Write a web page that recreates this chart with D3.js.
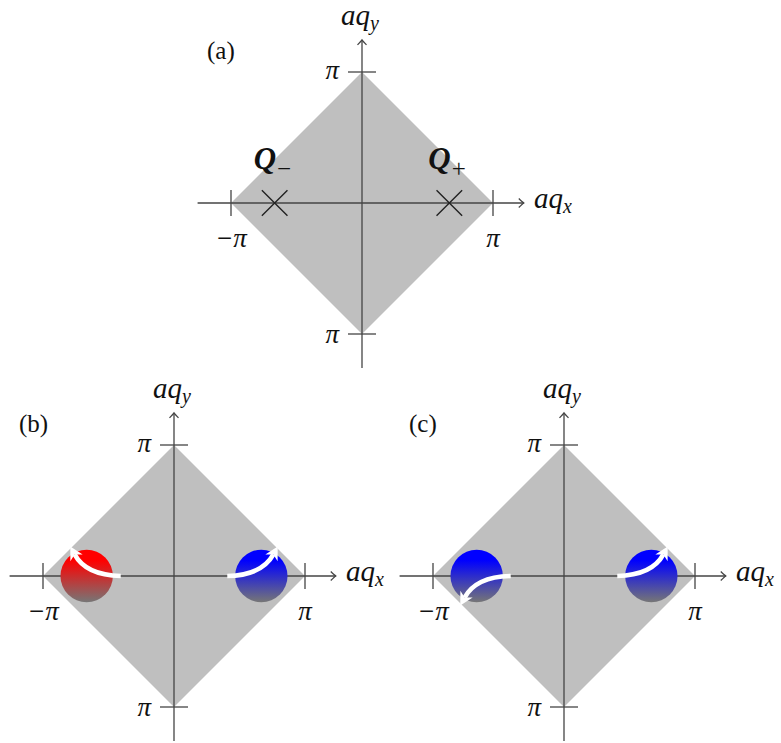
<!DOCTYPE html>
<html>
<head>
<meta charset="utf-8">
<script src="https://cdn.jsdelivr.net/npm/d3@7"></script>
<style>
  html, body { margin: 0; padding: 0; background: #fff; }
  svg { display: block; }
  text { font-family: "Liberation Serif", "Times New Roman", serif; fill: #111; }
</style>
</head>
<body>
<svg id="chart" width="781" height="743"></svg>
<script>
const PI = Math.PI;

// ---- data ----
const panelLabels = ["(a)", "(b)", "(c)"];
const bzVertices = [[PI, 0], [0, PI], [-PI, 0], [0, -PI]];   // Brillouin zone corners
const qPoints = [-2 * PI / 3, 2 * PI / 3];                     // Q_-, Q_+ on the qx axis
const qNames = ["\u2212", "+"];
const tickValues = [-PI, PI];
const xTickLabels = ["\u2212\u03c0", "\u03c0"];
const yTickLabels = ["\u03c0", "\u03c0"];
const valleyColorsB = ["red", "blue"];
const valleyColorsC = ["blue", "blue"];
const arrowSenseB = [1, 1];     // +1 : curls upward, -1 : curls downward
const arrowSenseC = [-1, 1];
const valleyRadius = 0.2 * PI;

// ---- layout ----
const svg = d3.select("#chart");
const HALF = 131;
const layout = [
  { cx: 362, cy: 203 },
  { cx: 174, cy: 576 },
  { cx: 564, cy: 576 }
];
const axisColor = "#444";
const FONT = "'Liberation Serif', 'Times New Roman', serif";

const defs = svg.append("defs");
const gradColors = { red: "#ff0000", blue: "#0000ff" };
Object.entries(gradColors).forEach(([k, c]) => {
  const g = defs.append("linearGradient").attr("id", "grad-" + k)
    .attr("x1", 0).attr("y1", 0).attr("x2", 0).attr("y2", 1);
  g.append("stop").attr("offset", "0").attr("stop-color", c);
  g.append("stop").attr("offset", "0.2").attr("stop-color", c);
  g.append("stop").attr("offset", "1").attr("stop-color", "#767676");
});

function axisArrow(g, x, y, angle) {
  g.append("path")
    .attr("d", "M-5,-4.5 Q-1.2,-0.8 0,0 Q-1.2,0.8 -5,4.5")
    .attr("transform", `translate(${x},${y}) rotate(${angle})`)
    .attr("fill", "none").attr("stroke", axisColor).attr("stroke-width", 1.3);
}

function sub(textSel, main, subTxt, subSize, dy) {
  textSel.append("tspan").text(main);
  textSel.append("tspan").attr("dy", dy).attr("font-size", subSize).text(subTxt);
}

function drawPanel(i) {
  const { cx, cy } = layout[i];
  const x = d3.scaleLinear().domain([-PI, PI]).range([cx - HALF, cx + HALF]);
  const y = d3.scaleLinear().domain([-PI, PI]).range([cy + HALF, cy - HALF]);
  const g = svg.append("g");

  // Brillouin zone
  g.append("path")
    .attr("d", d3.line().x(d => x(d[0])).y(d => y(d[1])).curve(d3.curveLinearClosed)(bzVertices))
    .attr("fill", "#bfbfbf");

  // axes
  const xa = [-1.255 * PI, 1.235 * PI];
  const ya = [-1.26 * PI, 1.245 * PI];
  g.append("line").attr("x1", x(xa[0])).attr("x2", x(xa[1])).attr("y1", y(0)).attr("y2", y(0))
    .attr("stroke", axisColor).attr("stroke-width", 1.3);
  g.append("line").attr("x1", x(0)).attr("x2", x(0)).attr("y1", y(ya[0])).attr("y2", y(ya[1]))
    .attr("stroke", axisColor).attr("stroke-width", 1.3);
  axisArrow(g, x(xa[1]), y(0), 0);
  axisArrow(g, x(0), y(ya[1]), -90);

  // ticks
  tickValues.forEach((t, k) => {
    g.append("line").attr("x1", x(t)).attr("x2", x(t)).attr("y1", y(0) - 13).attr("y2", y(0) + 13)
      .attr("stroke", axisColor).attr("stroke-width", 1.3);
    g.append("line").attr("y1", y(t)).attr("y2", y(t)).attr("x1", x(0) - 14).attr("x2", x(0) + 14)
      .attr("stroke", axisColor).attr("stroke-width", 1.3);
    g.append("text").attr("x", x(t)).attr("y", y(0) + 44).attr("text-anchor", "middle")
      .attr("font-family", FONT).attr("font-size", 27).attr("font-style", "italic").text(xTickLabels[k]);
    g.append("text").attr("x", x(0) - 23).attr("y", y(t) + (t > 0 ? 7 : 9)).attr("text-anchor", "end")
      .attr("font-family", FONT).attr("font-size", 27).attr("font-style", "italic").text(yTickLabels[k]);
  });

  // axis labels
  const lx = g.append("text").attr("x", x(0) + 172).attr("y", y(0) + 5)
    .attr("font-family", FONT).attr("font-size", 29).attr("font-style", "italic");
  sub(lx, "aq", "x", 20, 5);
  const ly = g.append("text").attr("x", x(0) - 21).attr("y", y(0) - 178)
    .attr("font-family", FONT).attr("font-size", 29).attr("font-style", "italic");
  sub(ly, "aq", "y", 20, 5);

  // panel label
  g.append("text").attr("x", x(0) - 155).attr("y", y(0) - 144)
    .attr("font-family", FONT).attr("font-size", 25).text(panelLabels[i]);

  return { g, x, y };
}

// ---- panel (a) ----
{
  const { g, x, y } = drawPanel(0);
  const s = 12.8;
  qPoints.forEach((q, k) => {
    g.append("path")
      .attr("d", `M${x(q) - s},${y(0) - s}L${x(q) + s},${y(0) + s}M${x(q) - s},${y(0) + s}L${x(q) + s},${y(0) - s}`)
      .attr("stroke", "#222").attr("stroke-width", 1.4).attr("fill", "none");
    const t = g.append("text").attr("x", x(q) - 21).attr("y", y(0) - 34)
      .attr("font-family", FONT).attr("font-size", 31).attr("font-weight", "bold").attr("font-style", "italic");
    t.append("tspan").text("Q");
    t.append("tspan").attr("dx", 1).attr("dy", 8).attr("font-size", 25).attr("font-weight", "normal")
      .attr("font-style", "normal").text(qNames[k]);
  });
}

// ---- panels (b), (c) ----
function drawValleys(i, colors, senses) {
  const { g, x, y } = drawPanel(i);
  qPoints.forEach((q, k) => {
    const rpx = x(valleyRadius) - x(0);
    g.append("circle").attr("cx", x(q)).attr("cy", y(0)).attr("r", rpx)
      .attr("fill", `url(#grad-${colors[k]})`);
    // white arrow, geometry in data units relative to the valley, mirrored for the left valley
    const mx = q < 0 ? -1 : 1;
    const sy = senses[k];
    const P0 = [x(q + mx * -0.26 * PI), y(0)];
    const C = [x(q + mx * 0.005 * PI), y(sy * 0.005 * PI)];
    const T = [x(q + mx * 0.125 * PI), y(sy * 0.225 * PI)];
    const L = 13, W = 7, N = 4;
    let dx = T[0] - C[0], dy = T[1] - C[1];
    const len = Math.hypot(dx, dy); dx /= len; dy /= len;
    const B = [T[0] - dx * (L - N), T[1] - dy * (L - N)];
    g.append("path").attr("d", `M${P0[0]},${P0[1]}Q${C[0]},${C[1]} ${B[0]},${B[1]}`)
      .attr("fill", "none").attr("stroke", "#fff").attr("stroke-width", 4.6);
    const px = -dy, py = dx;
    const back = [T[0] - dx * L, T[1] - dy * L];
    g.append("path")
      .attr("d", `M${T[0]},${T[1]}L${back[0] + px * W},${back[1] + py * W}L${B[0]},${B[1]}L${back[0] - px * W},${back[1] - py * W}Z`)
      .attr("fill", "#fff");
  });
}
drawValleys(1, valleyColorsB, arrowSenseB);
drawValleys(2, valleyColorsC, arrowSenseC);
</script>
</body>
</html>
